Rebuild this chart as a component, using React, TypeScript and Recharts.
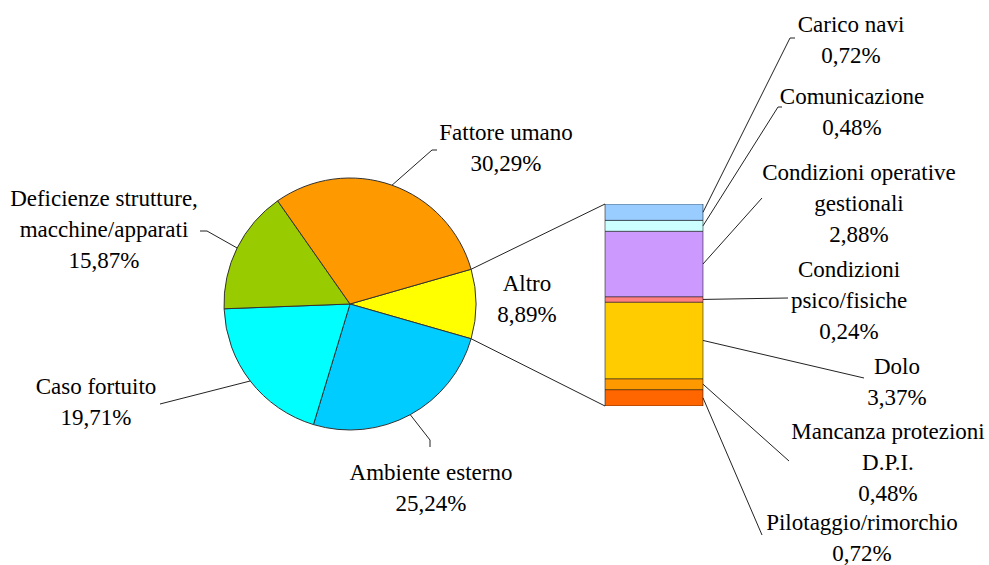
import { Bar, BarChart, Cell, LabelList, Pie, PieChart, XAxis, YAxis } from "recharts";

// main pie (clockwise, starting with the exploded slice)
const PIE_NAMES = [
  "Altro",
  "Ambiente esterno",
  "Caso fortuito",
  "Deficienze strutture,\nmacchine/apparati",
  "Fattore umano",
];
const PIE_VALUES = [8.89, 25.24, 19.71, 15.87, 30.29];
const PIE_COLORS = ["#ffff00", "#00ccff", "#00ffff", "#99cc00", "#ff9900"];

// breakdown of "Altro", bottom to top
const BAR_NAMES = [
  "Pilotaggio/rimorchio",
  "Mancanza protezioni\nD.P.I.",
  "Dolo",
  "Condizioni\npsico/fisiche",
  "Condizioni operative\ngestionali",
  "Comunicazione",
  "Carico navi",
];
const BAR_VALUES = [0.72, 0.48, 3.37, 0.24, 2.88, 0.48, 0.72];
const BAR_COLORS = ["#ff6600", "#ff9900", "#ffcc00", "#ff8080", "#cc99ff", "#ccffff", "#99ccff"];

const W = 989;
const H = 565;
const FONT = "Liberation Serif, Times New Roman, Times, DejaVu Serif, serif";
const FONT_SIZE = 23;
const LINE_H = 31;

const PIE_CX = 350;
const PIE_CY = 304;
const PIE_R = 126;

const BAR_LEFT = 605;
const BAR_RIGHT = 703;
const BAR_TOP = 204;
const BAR_BOTTOM = 406;

// label placement: text centre of first line, optional leader bend points
const PIE_LABEL_POS: { tx: number; ty: number; bend: number[][] | null }[] = [
  { tx: 527, ty: 283, bend: null },
  { tx: 431, ty: 472, bend: [[430, 440], [430, 447]] },
  { tx: 96, ty: 386, bend: [[160, 404]] },
  { tx: 104, ty: 198, bend: [[207, 231], [200, 231]] },
  { tx: 506, ty: 132, bend: [[432, 150], [437, 150]] },
];

const BAR_LABEL_POS: { tx: number; ty: number; bend: number[][] }[] = [
  { tx: 862, ty: 522, bend: [[762, 535]] },
  { tx: 888, ty: 431, bend: [[789, 461]] },
  { tx: 897, ty: 366, bend: [[864, 378]] },
  { tx: 849, ty: 269, bend: [[788, 298]] },
  { tx: 859, ty: 172, bend: [[762, 198]] },
  { tx: 852, ty: 96, bend: [[778, 107], [782, 107]] },
  { tx: 851, ty: 24, bend: [[790, 38], [795, 38]] },
];

const pct = (v: number) => v.toFixed(2).replace(".", ",") + "%";

const pieData = PIE_NAMES.map((name, i) => ({ name, value: PIE_VALUES[i] }));
const barRow: Record<string, number | string> = { name: "Altro" };
BAR_NAMES.forEach((_, i) => {
  barRow["s" + i] = BAR_VALUES[i];
});
const BAR_TOTAL = BAR_VALUES.reduce((a, b) => a + b, 0);
const PIE_TOTAL = PIE_VALUES.reduce((a, b) => a + b, 0);
const START_ANGLE = (PIE_VALUES[0] / PIE_TOTAL) * 180;

const RAD = Math.PI / 180;
const polar = (cx: number, cy: number, r: number, a: number) => [
  cx + Math.cos(-a * RAD) * r,
  cy + Math.sin(-a * RAD) * r,
];

function LabelText({ x, y, lines }: { x: number; y: number; lines: string[] }) {
  return (
    <g>
      {lines.map((ln, k) => (
        <text
          key={k}
          x={x}
          y={y + k * LINE_H}
          textAnchor="middle"
          dominantBaseline="central"
          style={{ fontFamily: FONT, fontSize: FONT_SIZE }}
          fill="#000"
        >
          {ln}
        </text>
      ))}
    </g>
  );
}

function renderPieLabel(props: any) {
  const { cx, cy, midAngle, outerRadius, index, percent } = props;
  const pos = PIE_LABEL_POS[index];
  const lines = [...PIE_NAMES[index].split("\n"), pct(PIE_VALUES[index])];
  const start = polar(cx, cy, outerRadius, midAngle);
  let connectors = null;
  if (index === 0) {
    const half = percent * 180;
    const top = polar(cx, cy, outerRadius, midAngle + half);
    const bot = polar(cx, cy, outerRadius, midAngle - half);
    connectors = (
      <g stroke="#222" strokeWidth={1}>
        <line x1={top[0]} y1={top[1]} x2={BAR_LEFT} y2={BAR_TOP} />
        <line x1={bot[0]} y1={bot[1]} x2={BAR_LEFT} y2={BAR_BOTTOM} />
      </g>
    );
  }
  return (
    <g key={"pl" + index}>
      {connectors}
      {pos.bend && (
        <polyline
          points={[start, ...pos.bend].map((p) => p.join(",")).join(" ")}
          fill="none"
          stroke="#222"
          strokeWidth={1}
        />
      )}
      <LabelText x={pos.tx} y={pos.ty} lines={lines} />
    </g>
  );
}

function makeBarLabel(i: number) {
  return (props: any) => {
    const vb = props.viewBox ?? props;
    const x = Number(vb.x ?? props.x);
    const y = Number(vb.y ?? props.y);
    const w = Number(vb.width ?? props.width);
    const h = Number(vb.height ?? props.height);
    const pos = BAR_LABEL_POS[i];
    const start = [x + w, y + h / 2];
    const lines = [...BAR_NAMES[i].split("\n"), pct(BAR_VALUES[i])];
    return (
      <g key={"bl" + i}>
        <polyline
          points={[start, ...pos.bend].map((p) => p.join(",")).join(" ")}
          fill="none"
          stroke="#222"
          strokeWidth={1}
        />
        <LabelText x={pos.tx} y={pos.ty} lines={lines} />
      </g>
    );
  };
}

export default function App() {
  return (
    <div style={{ position: "absolute", left: 0, top: 0, width: W, height: H, background: "#fff" }}>
      <div style={{ position: "absolute", left: 0, top: 0 }}>
        <PieChart width={W} height={H} margin={{ top: 0, right: 0, bottom: 0, left: 0 }}>
          <Pie
            data={pieData}
            dataKey="value"
            nameKey="name"
            cx={PIE_CX}
            cy={PIE_CY}
            outerRadius={PIE_R}
            startAngle={START_ANGLE}
            endAngle={START_ANGLE - 360}
            stroke="#333"
            strokeWidth={1}
            label={renderPieLabel}
            labelLine={false}
            isAnimationActive={false}
          >
            {pieData.map((_, i) => (
              <Cell key={i} fill={PIE_COLORS[i]} />
            ))}
          </Pie>
        </PieChart>
      </div>
      <div style={{ position: "absolute", left: 0, top: 0 }}>
        <BarChart
          width={W}
          height={H}
          data={[barRow]}
          barCategoryGap={0}
          margin={{ top: BAR_TOP, bottom: H - BAR_BOTTOM, left: BAR_LEFT, right: W - BAR_RIGHT }}
        >
          <XAxis dataKey="name" hide />
          <YAxis hide domain={[0, BAR_TOTAL]} allowDataOverflow />
          {BAR_NAMES.map((_, i) => (
            <Bar
              key={i}
              dataKey={"s" + i}
              stackId="a"
              fill={BAR_COLORS[i]}
              stroke="rgba(0,0,0,0.5)"
              strokeWidth={1}
              isAnimationActive={false}
            >
              <LabelList dataKey={"s" + i} content={makeBarLabel(i)} />
            </Bar>
          ))}
        </BarChart>
      </div>
    </div>
  );
}
